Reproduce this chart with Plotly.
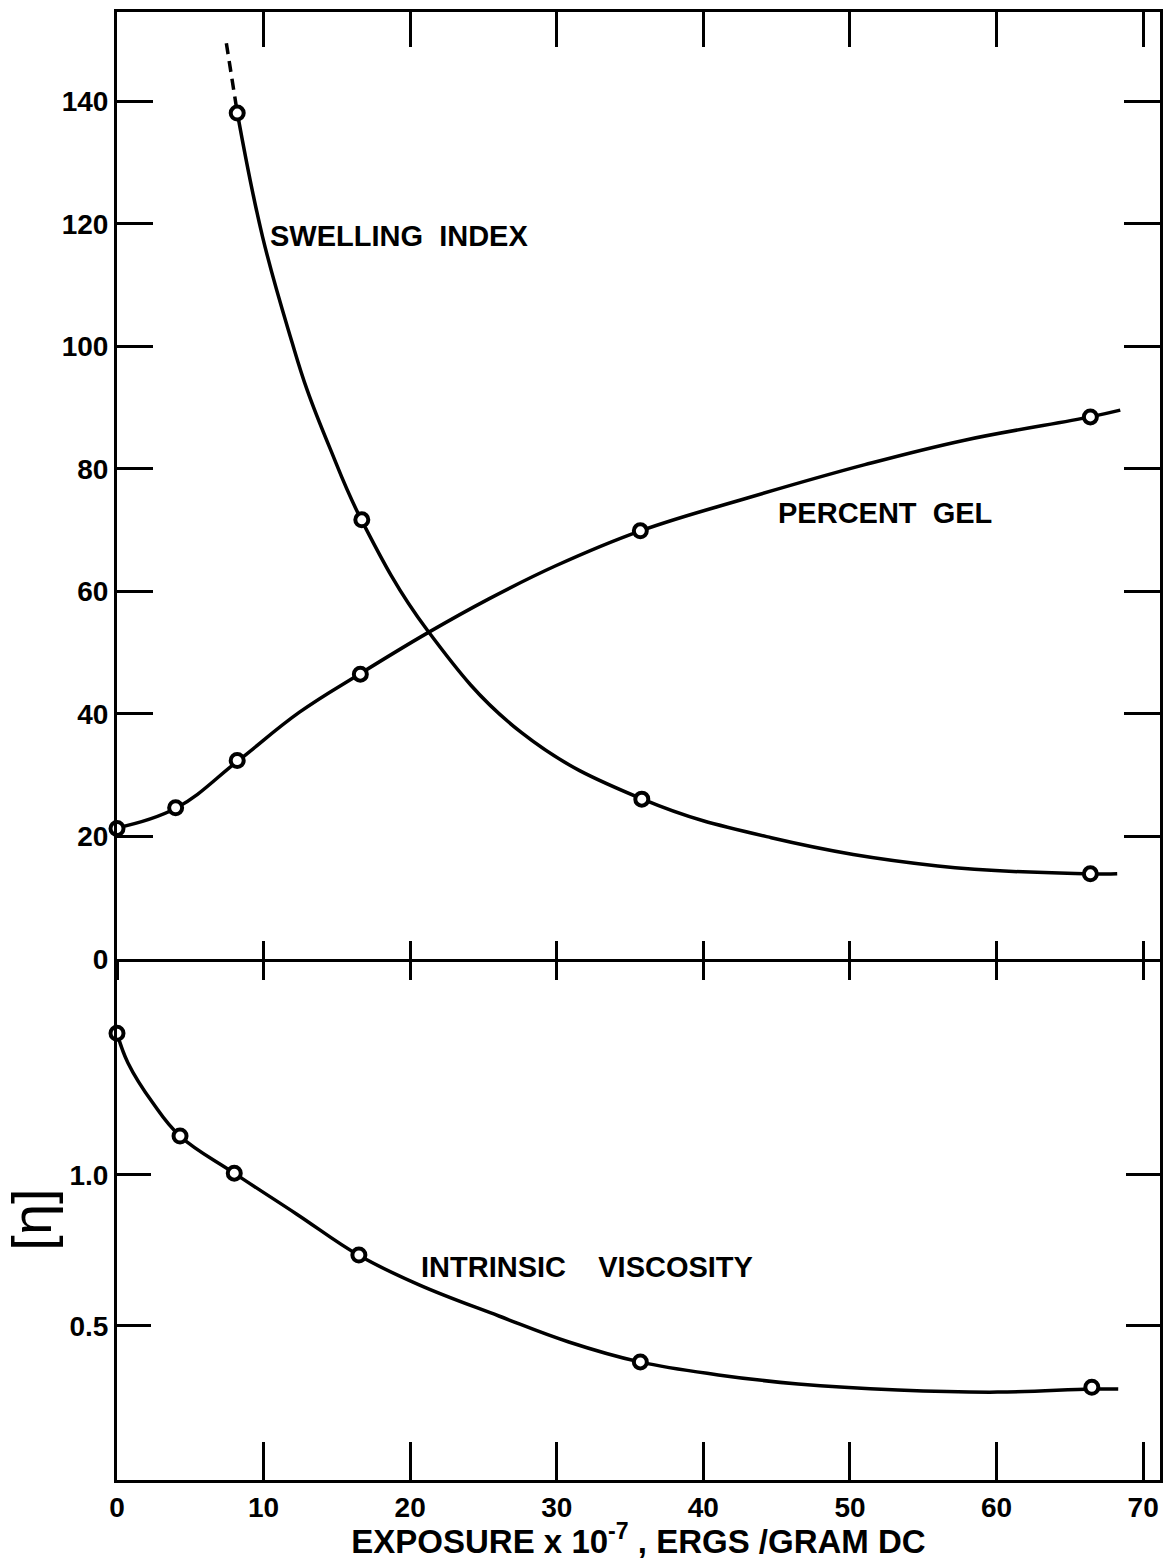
import plotly.graph_objects as go

# ---- data: exposure in units of 10^-7 ergs / gram DC ----
# measured points
swell_x = [8.2, 16.7, 35.8, 66.4]
swell_y = [138.1, 71.7, 26.1, 13.9]
gel_x = [0.0, 4.0, 8.2, 16.6, 35.7, 66.4]
gel_y = [21.3, 24.7, 32.4, 46.5, 69.9, 88.5]
visc_x = [0.0, 4.3, 8.0, 16.5, 35.7, 66.5]
visc_y = [1.469, 1.129, 1.006, 0.735, 0.381, 0.297]

# faired curves through the measurements
swell_curve_x = [8.21, 9.93, 11.95, 12.97, 14.49, 16.67, 21.16, 27.62, 35.85, 44.63, 55.99, 66.39, 68.23]
swell_curve_y = [138.1, 117.9, 100.6, 92.9, 83.6, 71.7, 53.7, 36.9, 26.1, 19.8, 15.2, 13.9, 13.9]
# extrapolated (dashed) part of the swelling-index curve
swell_ext_x = [7.46, 8.21]
swell_ext_y = [149.5, 138.1]

gel_curve_x = [0.0, 4.01, 8.23, 12.45, 16.53, 21.16, 25.37, 29.93, 35.71, 43.06,
               51.02, 57.82, 66.39, 68.44]
gel_curve_y = [21.4, 24.6, 32.3, 40.3, 46.5, 53.2, 58.8, 64.2, 69.9, 75.3,
               80.7, 84.7, 88.5, 89.6]

visc_curve_x = [0.0, 0.75, 2.45, 4.29, 7.96, 12.24, 16.46, 20.61, 26.05, 30.82, 35.65,
                41.02, 46.46, 53.27, 60.07, 66.46, 68.30]
visc_curve_y = [1.470, 1.371, 1.238, 1.129, 1.007, 0.871, 0.735, 0.636, 0.533, 0.447, 0.381,
                0.338, 0.308, 0.288, 0.281, 0.291, 0.291]

x_ticks = [0, 10, 20, 30, 40, 50, 60, 70]
top_y_ticks = [0, 20, 40, 60, 80, 100, 120, 140]
bot_y_ticks = [0.5, 1.0]
bot_y_labels = ["0.5", "1.0"]

X_RANGE = [0, 71.15]
TOP_RANGE = [0, 154.6]
BOT_RANGE = [-0.01, 1.715]
SPLIT = 0.3549

FONT = "Liberation Sans"
INK = "black"
LW = 3.5

fig = go.Figure()

curve_style = dict(mode="lines", line=dict(color=INK, width=LW, shape="spline", smoothing=1.15),
                   hoverinfo="skip", showlegend=False)
mark_style = dict(mode="markers", cliponaxis=False, showlegend=False,
                  marker=dict(symbol="circle", size=13, color="white",
                              line=dict(color=INK, width=4)))

# upper panel: swelling index and percent gel
fig.add_trace(go.Scatter(x=swell_ext_x, y=swell_ext_y, xaxis="x2", yaxis="y", mode="lines",
                         line=dict(color=INK, width=LW, dash="11px,7px"), showlegend=False))
fig.add_trace(go.Scatter(x=swell_curve_x, y=swell_curve_y, xaxis="x2", yaxis="y", **curve_style))
fig.add_trace(go.Scatter(x=gel_curve_x, y=gel_curve_y, xaxis="x2", yaxis="y", **curve_style))
fig.add_trace(go.Scatter(x=swell_x, y=swell_y, xaxis="x2", yaxis="y", **mark_style))
fig.add_trace(go.Scatter(x=gel_x, y=gel_y, xaxis="x2", yaxis="y", **mark_style))

# lower panel: intrinsic viscosity
fig.add_trace(go.Scatter(x=visc_curve_x, y=visc_curve_y, xaxis="x", yaxis="y2", **curve_style))
fig.add_trace(go.Scatter(x=visc_x, y=visc_y, xaxis="x", yaxis="y2", **mark_style))

# empty traces so the extra tick-only axes get drawn
fig.add_trace(go.Scatter(x=[], y=[], xaxis="x3", yaxis="y", showlegend=False))
fig.add_trace(go.Scatter(x=[], y=[], xaxis="x4", yaxis="y", showlegend=False))

tick_font = dict(family=FONT, size=28, color=INK, weight="bold")
common_x = dict(range=X_RANGE, tickvals=x_ticks, showgrid=False, zeroline=False,
                tickcolor=INK, tickwidth=3, linecolor=INK, linewidth=3)

fig.update_layout(
    width=1170, height=1560,
    margin=dict(l=117, r=7, t=12, b=80),
    paper_bgcolor="white", plot_bgcolor="white",
    showlegend=False,
    # bottom axis with labels
    xaxis=dict(common_x, anchor="y2", domain=[0, 1], side="bottom", ticks="inside", ticklen=38,
               showline=True, showticklabels=True, tickfont=tick_font, ticklabelstandoff=0,
               title=dict(text="EXPOSURE x 10<sup>-7</sup> , ERGS /GRAM DC", standoff=0,
                          font=dict(family=FONT, size=33, color=INK, weight="bold"))),
    # dividing line, ticks hanging into the lower panel
    xaxis2=dict(common_x, anchor="y", domain=[0, 1], side="bottom", ticks="outside", ticklen=18,
                showline=True, showticklabels=False),
    # dividing line, ticks rising into the upper panel
    xaxis3=dict(common_x, anchor="y", overlaying="x2", side="bottom", ticks="inside", ticklen=18,
                showline=False, showticklabels=False),
    # top frame edge
    xaxis4=dict(common_x, anchor="y", overlaying="x2", side="top", ticks="inside", ticklen=35,
                showline=True, showticklabels=False),
    yaxis=dict(domain=[SPLIT, 1], range=TOP_RANGE, tickvals=top_y_ticks, ticks="inside",
               ticklen=36, tickwidth=3, tickcolor=INK, showline=True, linecolor=INK,
               linewidth=3, mirror="ticks", showgrid=False, zeroline=False,
               tickfont=tick_font, ticklabelstandoff=0),
    yaxis2=dict(domain=[0, SPLIT], range=BOT_RANGE, tickvals=bot_y_ticks, ticktext=bot_y_labels,
                ticks="inside", ticklen=34, tickwidth=3, tickcolor=INK, showline=True,
                linecolor=INK, linewidth=3, mirror="ticks", showgrid=False, zeroline=False,
                tickfont=tick_font, ticklabelstandoff=0,
                title=dict(text="[η]", standoff=18,
                           font=dict(family=FONT, size=56, color=INK))),
)

label_font = dict(family=FONT, size=29, color=INK, weight="bold")
fig.add_annotation(x=10.27, y=118, xref="x2", yref="y", text="SWELLING  INDEX",
                   showarrow=False, xanchor="left", yanchor="middle", font=label_font)
fig.add_annotation(x=44.97, y=72.8, xref="x2", yref="y", text="PERCENT  GEL",
                   showarrow=False, xanchor="left", yanchor="middle", font=label_font)
fig.add_annotation(x=20.6, y=0.695, xref="x", yref="y2", text="INTRINSIC    VISCOSITY",
                   showarrow=False, xanchor="left", yanchor="middle", font=label_font)

fig.write_html("out.html")
